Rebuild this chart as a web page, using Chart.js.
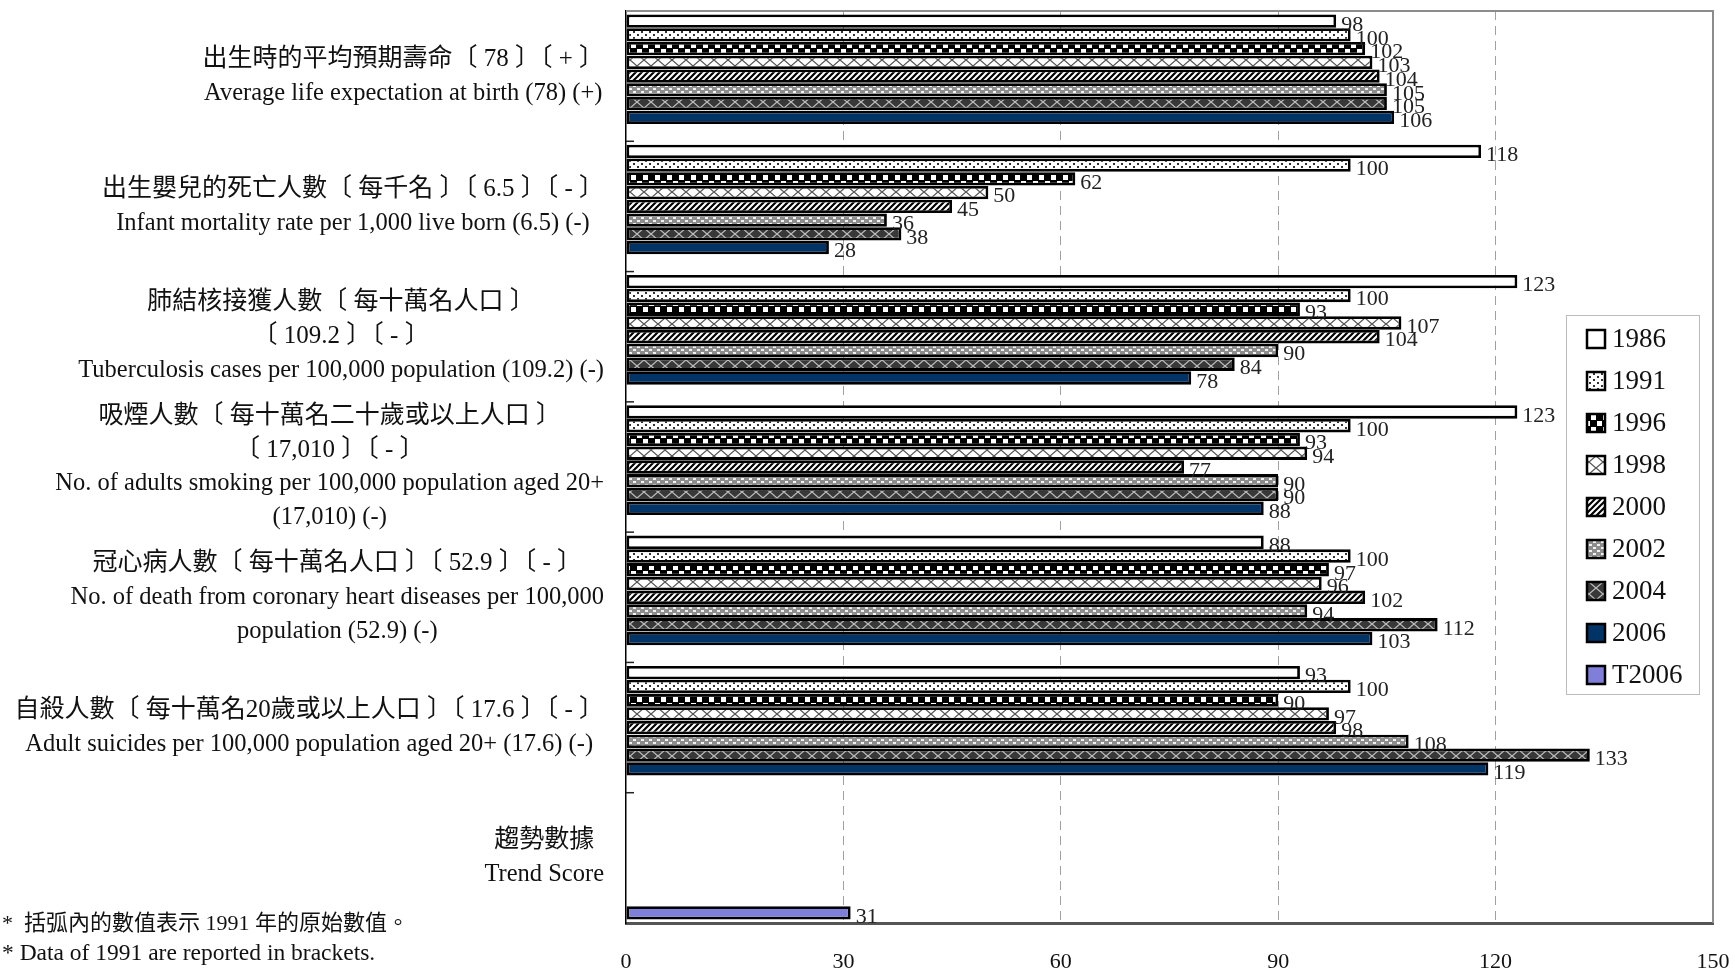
<!DOCTYPE html>
<html>
<head>
<meta charset="utf-8">
<script src="https://cdn.jsdelivr.net/npm/chart.js@4/dist/chart.umd.min.js"></script>
<style>
  html, body { margin: 0; padding: 0; background: #fff; }
  canvas { display: block; }
</style>
</head>
<body>
<canvas id="chart" width="1735" height="976"></canvas>
<script>
/* --------------- Categories (one array of lines per indicator) --------------------- */

const categories = [
  ["出生時的平均預期壽命〔 78 〕〔 + 〕", "Average life expectation at birth (78) (+)"],
  ["出生嬰兒的死亡人數〔 每千名 〕〔 6.5 〕〔 - 〕", "Infant mortality rate per 1,000 live born (6.5) (-)"],
  ["肺結核接獲人數〔 每十萬名人口 〕", "〔 109.2 〕〔 - 〕", "Tuberculosis cases per 100,000 population (109.2) (-)"],
  ["吸煙人數〔 每十萬名二十歲或以上人口 〕", "〔 17,010 〕〔 - 〕", "No. of adults smoking per 100,000 population aged 20+", "(17,010) (-)"],
  ["冠心病人數〔 每十萬名人口 〕〔 52.9 〕〔 - 〕", "No. of death from coronary heart diseases per 100,000", "population (52.9) (-)"],
  ["自殺人數〔 每十萬名20歲或以上人口 〕〔 17.6 〕〔 - 〕", "Adult suicides per 100,000 population aged 20+ (17.6) (-)"],
  ["趨勢數據", "Trend Score"],
];

/* --------------- Series --------------------- */

const years = ["1986", "1991", "1996", "1998", "2000", "2002", "2004", "2006", "T2006"];

const v1986 = [98, 118, 123, 123, 88, 93, null];
const v1991 = [100, 100, 100, 100, 100, 100, null];
const v1996 = [102, 62, 93, 93, 97, 90, null];
const v1998 = [103, 50, 107, 94, 96, 97, null];
const v2000 = [104, 45, 104, 77, 102, 98, null];
const v2002 = [105, 36, 90, 90, 94, 108, null];
const v2004 = [105, 38, 84, 90, 112, 133, null];
const v2006 = [106, 28, 78, 88, 103, 119, null];
const vT2006 = [null, null, null, null, null, null, 31];

const seriesValues = [v1986, v1991, v1996, v1998, v2000, v2002, v2004, v2006, vT2006];

/* --------------- X Axis Ticks --------------------- */

const xTicks = [0, 30, 60, 90, 120, 150];

const footnotes = [
  "*  括弧內的數值表示 1991 年的原始數值。",
  "* Data of 1991 are reported in brackets.",
];

/* --------------- Fill Patterns --------------------- */

const SERIF = '"Liberation Serif", "Noto Sans CJK TC", serif';
const canvas = document.getElementById("chart");
const mainCtx = canvas.getContext("2d");

function pattern(w, h, draw) {
  const c = document.createElement("canvas");
  c.width = w;
  c.height = h;
  const g = c.getContext("2d");
  draw(g, w, h);
  return mainCtx.createPattern(c, "repeat");
}

function crossLines(g, w, h) {
  g.beginPath();
  g.moveTo(0, 0); g.lineTo(w, h);
  g.moveTo(w, 0); g.lineTo(0, h);
  g.stroke();
}

const fills = [
  "#ffffff",
  pattern(8, 6, (g) => {
    g.fillStyle = "#fff"; g.fillRect(0, 0, 8, 6);
    g.fillStyle = "#333"; g.fillRect(1, 1, 2, 2); g.fillRect(5, 4, 2, 2);
  }),
  pattern(12, 12, (g) => {
    g.fillStyle = "#000"; g.fillRect(0, 0, 12, 12);
    g.fillStyle = "#fff"; g.fillRect(1, 1, 5, 5); g.fillRect(7, 7, 5, 5);
  }),
  pattern(14, 12, (g, w, h) => {
    g.fillStyle = "#fff"; g.fillRect(0, 0, w, h);
    g.strokeStyle = "#555"; g.lineWidth = 1.3; crossLines(g, w, h);
  }),
  pattern(6, 6, (g) => {
    g.fillStyle = "#fff"; g.fillRect(0, 0, 6, 6);
    g.strokeStyle = "#000"; g.lineWidth = 2.2;
    g.beginPath();
    g.moveTo(0, 6); g.lineTo(6, 0);
    g.moveTo(-3, 3); g.lineTo(3, -3);
    g.moveTo(3, 9); g.lineTo(9, 3);
    g.stroke();
  }),
  pattern(8, 6, (g) => {
    g.fillStyle = "#8e8e8e"; g.fillRect(0, 0, 8, 6);
    g.fillStyle = "#f2f2f2"; g.fillRect(1, 1, 3, 2); g.fillRect(5, 4, 3, 2);
  }),
  pattern(14, 12, (g, w, h) => {
    g.fillStyle = "#383838"; g.fillRect(0, 0, w, h);
    g.strokeStyle = "#bdbdbd"; g.lineWidth = 1.3; crossLines(g, w, h);
  }),
  "#003366",
  "#7f7fd9",
];

/* --------------- Extra Drawing: labels, legend, frame, notes --------------------- */

const hasCJK = (s) => /[\u3000-\u9fff]/.test(s);

const decorations = {
  id: "decorations",
  afterDatasetsDraw(chart) {
    const ctx = chart.ctx;
    ctx.save();
    ctx.font = "22px " + SERIF;
    ctx.fillStyle = "#222";
    ctx.textAlign = "left";
    ctx.textBaseline = "middle";
    chart.data.datasets.forEach((ds, i) => {
      chart.getDatasetMeta(i).data.forEach((bar, j) => {
        const v = ds.data[j];
        if (v === null || v === undefined) return;
        ctx.fillText(String(v), bar.x + 5, bar.y + 4);
      });
    });
    ctx.restore();
  },
  afterDraw(chart) {
    const ctx = chart.ctx;
    const area = chart.chartArea;
    const ys = chart.scales.y;
    ctx.save();

    // top and right frame of the plot
    ctx.strokeStyle = "#8c8c8c";
    ctx.lineWidth = 2;
    ctx.beginPath();
    ctx.moveTo(area.left, area.top);
    ctx.lineTo(area.right, area.top);
    ctx.lineTo(area.right, area.bottom);
    ctx.stroke();

    // small inner ticks between categories
    ctx.strokeStyle = "#222";
    ctx.lineWidth = 1.5;
    for (let i = 1; i < categories.length; i++) {
      const y = (ys.getPixelForValue(i - 1) + ys.getPixelForValue(i)) / 2;
      ctx.beginPath();
      ctx.moveTo(area.left, y);
      ctx.lineTo(area.left + 8, y);
      ctx.stroke();
    }

    // category labels, lines centred, block right-aligned
    const fontFor = (l) => (hasCJK(l) ? "25px " : "24.5px ") + SERIF;
    ctx.fillStyle = "#111";
    ctx.textAlign = "center";
    ctx.textBaseline = "middle";
    const lineH = 34;
    chart.data.labels.forEach((lines, i) => {
      const yc = ys.getPixelForValue(i);
      const maxW = Math.max(...lines.map((l) => { ctx.font = fontFor(l); return ctx.measureText(l).width; }));
      const cx = area.left - 22 - maxW / 2;
      const y0 = yc - (lines.length * lineH) / 2 + lineH / 2;
      lines.forEach((l, k) => {
        ctx.font = fontFor(l);
        ctx.fillText(l, cx, y0 + k * lineH);
      });
    });

    // legend
    const lx = 1566, ly = 315, lw = 133, lh = 379;
    ctx.fillStyle = "#fff";
    ctx.fillRect(lx, ly, lw, lh);
    ctx.strokeStyle = "#bbb";
    ctx.lineWidth = 1;
    ctx.strokeRect(lx + 0.5, ly + 0.5, lw, lh);
    ctx.font = "27px " + SERIF;
    ctx.textAlign = "left";
    chart.data.datasets.forEach((ds, i) => {
      const yc = ly + 24 + i * 42;
      ctx.fillStyle = ds.backgroundColor;
      ctx.fillRect(lx + 21, yc - 9, 18, 18);
      ctx.strokeStyle = "#000";
      ctx.lineWidth = 2.5;
      ctx.strokeRect(lx + 21, yc - 9, 18, 18);
      ctx.fillStyle = "#111";
      ctx.fillText(ds.label, lx + 46, yc + 1);
    });

    // footnotes
    ctx.fillStyle = "#111";
    ctx.font = "22px " + SERIF;
    ctx.fillText(footnotes[0], 2, 924);
    ctx.font = "23.5px " + SERIF;
    ctx.fillText(footnotes[1], 2, 954);

    ctx.restore();
  },
};

/* --------------- Chart --------------------- */

new Chart(canvas, {
  type: "bar",
  data: {
    labels: categories,
    datasets: years.map((y, i) => ({
      label: y,
      data: seriesValues[i],
      backgroundColor: fills[i],
      borderColor: "#000",
      borderWidth: 2.8,
      borderSkipped: false,
      categoryPercentage: 0.95,
      barPercentage: 0.97,
    })),
  },
  options: {
    indexAxis: "y",
    responsive: false,
    animation: false,
    layout: { padding: { left: 626, right: 22, top: 11, bottom: 0 } },
    plugins: {
      legend: { display: false },
      tooltip: { enabled: false },
    },
    scales: {
      x: {
        min: xTicks[0],
        max: xTicks[xTicks.length - 1],
        afterBuildTicks: (s) => { s.ticks = xTicks.map((v) => ({ value: v })); },
        afterFit: (s) => { s.height = 53; s.paddingLeft = 0; s.paddingRight = 0; },
        ticks: { font: { family: SERIF, size: 22 }, color: "#111", padding: 26 },
        grid: {
          drawTicks: false,
          lineWidth: 1,
          color: (c) => (c.tick && (c.tick.value === 0 || c.tick.value === 150) ? "rgba(0,0,0,0)" : "#a0a0a0"),
        },
        border: { display: true, color: "#555", width: 3, dash: [9, 6] },
      },
      y: {
        ticks: { display: false },
        grid: { display: false },
        border: { display: true, color: "#000", width: 1.5 },
        afterFit: (s) => { s.width = 0; },
      },
    },
  },
  plugins: [decorations],
});
</script>
</body>
</html>
